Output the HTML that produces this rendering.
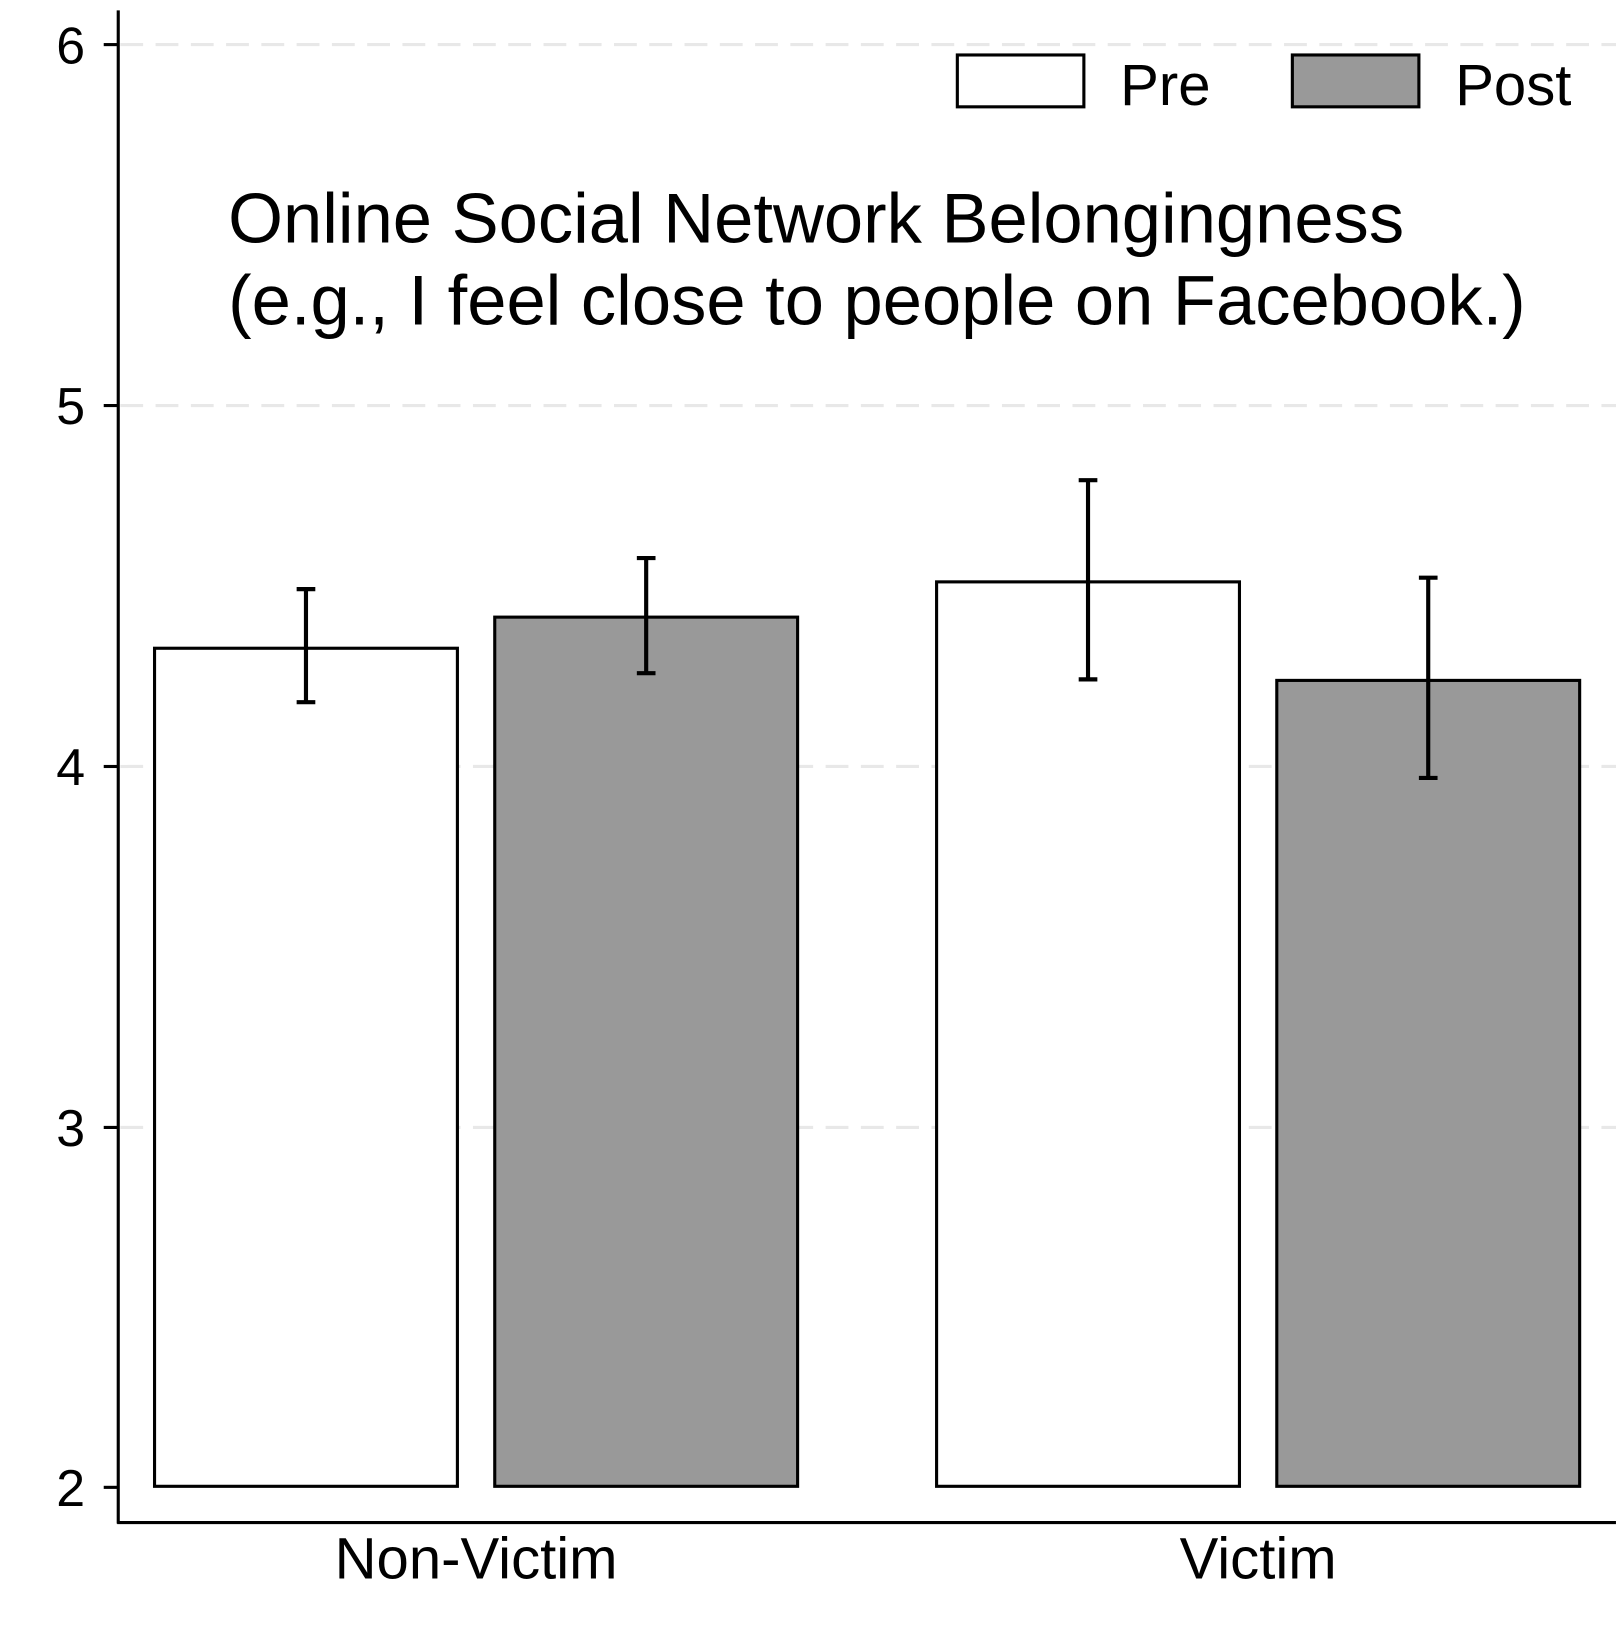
<!DOCTYPE html>
<html><head><style>body{margin:0;background:#fff}</style></head><body>
<svg width="1620" height="1620" xmlns="http://www.w3.org/2000/svg" font-family="Liberation Sans, sans-serif">
<rect width="1620" height="1620" fill="#fff"/>
<g transform="scale(1.0372)">
<g stroke="#e8e8e8" stroke-width="3" stroke-dasharray="22,12">
<line x1="116" y1="43" x2="1558" y2="43"/><line x1="116" y1="391" x2="1558" y2="391"/>
<line x1="116" y1="739" x2="1558" y2="739"/><line x1="116" y1="1087" x2="1558" y2="1087"/>
</g>
<g stroke="#000" stroke-width="3">
<rect x="149" y="625" width="292" height="808" fill="#fff"/>
<rect x="477" y="595" width="292" height="838" fill="#999"/>
<rect x="903" y="561" width="292" height="872" fill="#fff"/>
<rect x="1231" y="656" width="292" height="777" fill="#999"/>
</g>
<g stroke="#000" stroke-width="4">
<line x1="295" y1="568" x2="295" y2="677"/><line x1="286" y1="568" x2="304" y2="568"/><line x1="286" y1="677" x2="304" y2="677"/>
<line x1="623" y1="538" x2="623" y2="649"/><line x1="614" y1="538" x2="632" y2="538"/><line x1="614" y1="649" x2="632" y2="649"/>
<line x1="1049" y1="463" x2="1049" y2="655"/><line x1="1040" y1="463" x2="1058" y2="463"/><line x1="1040" y1="655" x2="1058" y2="655"/>
<line x1="1377" y1="557" x2="1377" y2="750"/><line x1="1368" y1="557" x2="1386" y2="557"/><line x1="1368" y1="750" x2="1386" y2="750"/>
</g>
<g stroke="#000" stroke-width="3">
<line x1="114" y1="10" x2="114" y2="1469"/><line x1="113" y1="1468" x2="1558" y2="1468"/>
<line x1="100" y1="43" x2="114" y2="43"/><line x1="100" y1="391" x2="114" y2="391"/><line x1="100" y1="739" x2="114" y2="739"/><line x1="100" y1="1087" x2="114" y2="1087"/><line x1="100" y1="1434" x2="114" y2="1434"/>
</g>
<g font-size="50" text-anchor="end">
<text x="82" y="61">6</text><text x="82" y="409">5</text><text x="82" y="757">4</text><text x="82" y="1105">3</text><text x="82" y="1452">2</text>
</g>
<g font-size="56" text-anchor="middle">
<text x="459" y="1522">Non-Victim</text><text x="1213" y="1522">Victim</text>
</g>
<rect x="923" y="53" width="122" height="50" fill="#fff" stroke="#000" stroke-width="3"/>
<rect x="1246" y="53" width="122" height="50" fill="#999" stroke="#000" stroke-width="3"/>
<text x="1080" y="101" font-size="56">Pre</text>
<text x="1403" y="101" font-size="56">Post</text>
<text x="220" y="234" font-size="68">Online Social Network Belongingness</text>
<text x="220" y="313" font-size="68">(e.g., I feel close to people on Facebook.)</text>
</g>
</svg>
</body></html>
